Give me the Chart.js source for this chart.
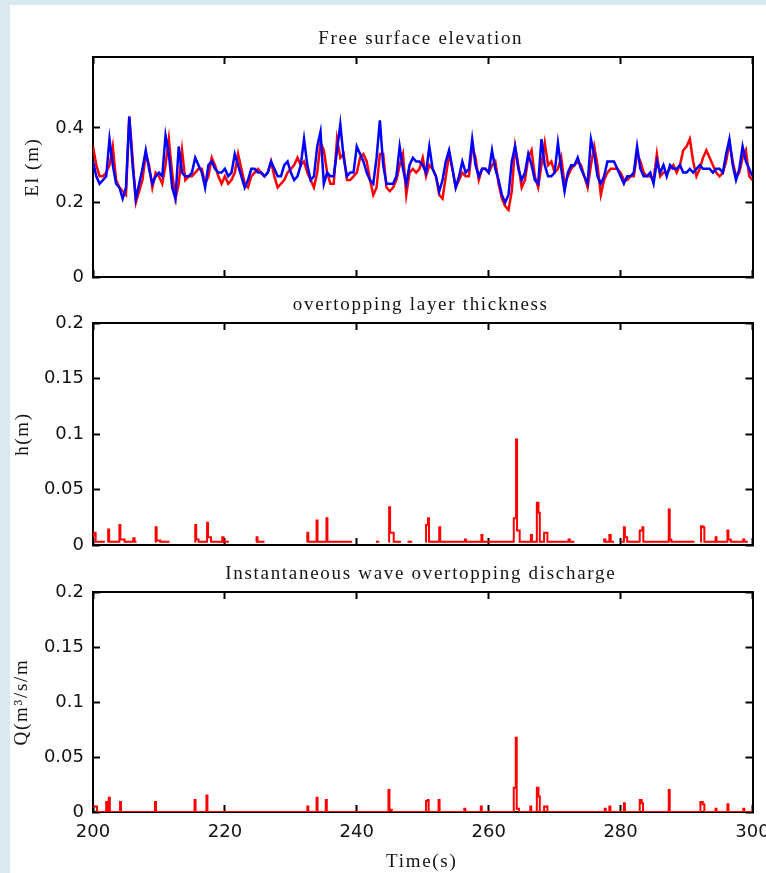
<!DOCTYPE html>
<html>
<head>
<meta charset="utf-8">
<title>Wave overtopping time series</title>
<script src="https://cdn.jsdelivr.net/npm/chart.js@4.4.1/dist/chart.umd.min.js"></script>
<style>
  html, body { margin: 0; padding: 0; }
  body { width: 766px; height: 873px; background: #d9e9f2; position: relative; overflow: hidden; }
  #sheet { position: absolute; left: 10px; top: 5px; right: 0; bottom: 0; background: #fff; }
  canvas { position: absolute; left: 0; }
</style>
</head>
<body>
<div id="sheet"></div>
<canvas id="elev" width="766" height="290" style="top:0px"></canvas>
<canvas id="layer" width="766" height="270" style="top:290px"></canvas>
<canvas id="discharge" width="766" height="313" style="top:560px"></canvas>
<script>
// ---- Free surface elevation (m), sampled every 0.5 s from t = 200 s ----
const elevStart = 200;
const elevStep = 0.5;
const elevBlue = [
  0.31,0.27,0.25,0.26,0.27,0.37,0.30,0.25,0.24,0.21,
  0.24,0.43,0.30,0.21,0.25,0.29,0.34,0.29,0.25,0.27,
  0.28,0.27,0.38,0.33,0.24,0.21,0.35,0.28,0.27,0.27,
  0.28,0.32,0.30,0.28,0.24,0.30,0.31,0.29,0.28,0.28,
  0.29,0.27,0.28,0.33,0.30,0.27,0.24,0.26,0.29,0.29,
  0.28,0.28,0.27,0.28,0.31,0.29,0.27,0.27,0.30,0.31,
  0.28,0.26,0.27,0.30,0.37,0.30,0.26,0.27,0.35,0.39,
  0.25,0.28,0.27,0.27,0.34,0.41,0.32,0.27,0.28,0.28,
  0.35,0.33,0.31,0.28,0.26,0.25,0.32,0.42,0.30,0.25,
  0.25,0.25,0.27,0.35,0.29,0.25,0.30,0.32,0.31,0.31,
  0.30,0.28,0.35,0.29,0.27,0.23,0.26,0.31,0.34,0.29,
  0.24,0.27,0.31,0.28,0.29,0.37,0.30,0.27,0.29,0.29,
  0.28,0.34,0.29,0.26,0.22,0.20,0.22,0.31,0.35,0.29,
  0.26,0.28,0.33,0.30,0.26,0.25,0.37,0.30,0.27,0.27,
  0.28,0.36,0.29,0.23,0.28,0.30,0.30,0.32,0.29,0.27,
  0.25,0.37,0.33,0.27,0.25,0.27,0.31,0.31,0.31,0.29,
  0.27,0.25,0.27,0.27,0.28,0.35,0.29,0.27,0.27,0.28,
  0.25,0.31,0.28,0.30,0.27,0.30,0.29,0.29,0.30,0.28,
  0.28,0.29,0.28,0.29,0.30,0.29,0.29,0.29,0.28,0.29,
  0.29,0.28,0.33,0.37,0.30,0.26,0.29,0.35,0.31,0.29,
  0.27
];
const elevRed = [
  0.35,0.30,0.27,0.27,0.28,0.30,0.35,0.26,0.24,0.23,
  0.22,0.43,0.32,0.20,0.23,0.26,0.33,0.30,0.24,0.28,
  0.27,0.25,0.30,0.37,0.28,0.21,0.25,0.34,0.26,0.27,
  0.27,0.28,0.29,0.29,0.25,0.27,0.32,0.30,0.27,0.25,
  0.27,0.25,0.26,0.28,0.33,0.29,0.25,0.24,0.27,0.28,
  0.29,0.28,0.27,0.28,0.31,0.27,0.24,0.25,0.26,0.28,
  0.29,0.30,0.32,0.30,0.31,0.28,0.26,0.24,0.28,0.36,
  0.34,0.28,0.25,0.25,0.37,0.32,0.33,0.26,0.26,0.27,
  0.28,0.32,0.33,0.31,0.26,0.22,0.24,0.33,0.33,0.24,
  0.23,0.24,0.26,0.30,0.33,0.22,0.28,0.29,0.28,0.29,
  0.32,0.27,0.30,0.29,0.27,0.22,0.21,0.27,0.33,0.29,
  0.24,0.26,0.28,0.27,0.27,0.35,0.32,0.26,0.29,0.29,
  0.28,0.30,0.31,0.25,0.21,0.19,0.18,0.23,0.35,0.30,
  0.24,0.26,0.32,0.34,0.27,0.24,0.30,0.36,0.30,0.31,
  0.28,0.29,0.32,0.25,0.27,0.29,0.30,0.31,0.30,0.27,
  0.24,0.30,0.35,0.30,0.22,0.26,0.28,0.29,0.29,0.29,
  0.28,0.26,0.26,0.27,0.27,0.33,0.31,0.28,0.27,0.27,
  0.26,0.33,0.27,0.28,0.28,0.29,0.30,0.28,0.30,0.34,
  0.35,0.37,0.31,0.27,0.29,0.32,0.34,0.32,0.30,0.28,
  0.27,0.28,0.31,0.36,0.31,0.27,0.28,0.32,0.34,0.27,
  0.26
];

// ---- Overtopping layer thickness h (m): value held from each time until the next; null = dry crest ----
const layerTimes = [
  200.0,200.15,200.4,201.8,201.85,202.2,202.3,202.45,204.0,204.15,204.8,206.1,206.3,206.6,206.65,
  209.4,209.5,209.65,210.2,211.6,211.65,215.4,215.5,215.65,216.0,217.3,217.45,217.9,219.6,219.8,
  220.6,220.65,224.7,224.8,224.95,226.0,226.05,232.4,232.5,232.65,233.9,234.05,235.4,235.55,239.3,
  239.35,242.9,243.4,243.45,244.8,244.9,245.05,245.6,246.7,246.75,247.7,248.4,248.45,250.4,250.5,
  250.8,250.95,252.5,252.65,256.4,256.55,258.9,259.05,263.8,264.15,264.3,264.7,266.4,266.55,267.3,
  267.55,267.75,268.4,268.9,272.1,272.3,273.0,273.05,277.4,277.5,277.7,278.3,278.5,279.0,279.05,
  280.1,280.5,280.65,281.0,282.9,283.3,283.45,287.3,287.45,287.7,291.2,291.25,292.1,292.2,292.45,
  292.7,294.4,294.55,296.2,296.35,296.7,298.6,298.75,299.3,299.35
];
const layerValues = [
  0.008,0.011,0.003,0.003,null,0.003,0.014,0.003,0.018,0.005,0.003,0.006,0.003,0.003,null,
  0.003,0.016,0.004,0.003,0.003,null,0.003,0.018,0.005,0.003,0.020,0.007,0.003,0.007,0.003,
  0.003,null,0.003,0.007,0.003,0.003,null,0.003,0.011,0.003,0.022,0.003,0.024,0.003,0.003,
  null,0.003,0.003,null,0.003,0.034,0.011,0.003,0.003,null,0.003,0.003,null,0.003,0.018,
  0.024,0.003,0.016,0.003,0.005,0.003,0.009,0.003,0.024,0.095,0.013,0.003,0.009,0.003,0.038,
  0.029,0.003,0.011,0.003,0.005,0.003,0.003,null,0.003,0.005,0.003,0.009,0.003,0.003,null,
  0.003,0.016,0.007,0.003,0.013,0.016,0.003,0.032,0.005,0.003,0.003,null,0.003,0.017,0.016,
  0.003,0.007,0.003,0.013,0.005,0.003,0.005,0.003,0.003,null
];

// ---- Instantaneous overtopping discharge Q (m3/s/m), held from each time until the next ----
const dischargeTimes = [
  200.0,200.6,202.0,202.15,202.4,202.55,204.1,204.25,209.4,209.55,215.4,215.55,217.2,217.35,
  232.5,232.65,233.9,234.05,235.3,235.45,244.8,244.95,245.3,250.5,250.75,250.9,252.4,252.55,
  256.3,256.45,258.8,258.95,263.8,264.1,264.25,264.6,266.3,266.45,267.3,267.55,267.75,268.4,
  268.9,277.6,277.75,278.3,278.45,280.5,280.65,282.9,283.2,283.4,287.3,287.45,292.1,292.45,
  292.7,294.4,294.55,296.2,296.35,298.6,298.75,300.0
];
const dischargeValues = [
  0.005,0,0.009,0,0.013,0,0.009,0,0.009,0,0.011,0,0.015,0,
  0.005,0,0.013,0,0.011,0,0.020,0.002,0,0.010,0.011,0,0.011,0,
  0.003,0,0.005,0,0.022,0.0675,0.003,0,0.005,0,0.022,0.014,0,0.005,
  0,0.003,0,0.005,0,0.008,0,0.011,0.008,0,0.020,0,0.009,0.007,
  0,0.003,0,0.007,0,0.003,0,0
];

// Axis tick labels
const timeTicks = [200, 220, 240, 260, 280, 300];

const pairs = (xs, ys) => xs.map((x, i) => ({ x, y: ys[i] }));
const sampled = (t0, dt, ys) => ys.map((y, i) => ({ x: t0 + dt * i, y }));

// Serif panel headings and axis names, letter-spaced
const panelText = {
  id: 'panelText',
  afterDraw(chart, args, o) {
    const { ctx, chartArea: a } = chart;
    ctx.save();
    ctx.fillStyle = '#141414';
    ctx.font = '19px "Liberation Serif", "Times New Roman", serif';
    ctx.letterSpacing = '1.7px';
    ctx.textAlign = 'center';
    ctx.textBaseline = 'alphabetic';
    ctx.fillText(o.title, (a.left + a.right) / 2 - 2, a.top - 13);
    if (o.xTitle) {
      ctx.textBaseline = 'middle';
      ctx.fillText(o.xTitle, (a.left + a.right) / 2 - 1, o.xTitleY);
    }
    ctx.translate(o.yTitleX, (a.top + a.bottom) / 2);
    ctx.rotate(-Math.PI / 2);
    ctx.textBaseline = 'middle';
    ctx.fillText(o.yTitle, 0, 0);
    ctx.restore();
  }
};

const tickFont = { family: 'DejaVu Sans', size: 18 };
const fmt = v => String(Math.round(v * 1000) / 1000);

function makeGrid() {
  return { drawOnChartArea: false, drawTicks: true, tickLength: -7, tickWidth: 2, tickColor: '#000' };
}
function makeBorder() {
  return { display: true, color: '#000', width: 2 };
}

function makeScales(p) {
  return {
    x: {
      type: 'linear', position: 'bottom', min: 200, max: 300,
      grid: makeGrid(), border: makeBorder(),
      afterBuildTicks: s => { s.ticks = timeTicks.map(v => ({ value: v })); },
      ticks: { display: p.xLabels, font: tickFont, color: '#111', padding: 17, maxRotation: 0, autoSkip: false },
      afterFit: s => { s.height = p.bottomSpace; s.paddingLeft = 0; s.paddingRight = 0; }
    },
    xTop: {
      type: 'linear', position: 'top', min: 200, max: 300,
      grid: makeGrid(), border: makeBorder(),
      afterBuildTicks: s => { s.ticks = timeTicks.map(v => ({ value: v })); },
      ticks: { display: false },
      afterFit: s => { s.height = p.topSpace; s.paddingLeft = 0; s.paddingRight = 0; }
    },
    y: {
      type: 'linear', position: 'left', min: 0, max: p.yMax,
      grid: makeGrid(), border: makeBorder(),
      ticks: { stepSize: p.yStep, includeBounds: false, font: tickFont, color: '#111', padding: 16, callback: fmt },
      afterFit: s => { s.width = 93; s.paddingTop = 0; s.paddingBottom = 0; }
    },
    yRight: {
      type: 'linear', position: 'right', min: 0, max: p.yMax,
      grid: makeGrid(), border: makeBorder(),
      ticks: { stepSize: p.yStep, includeBounds: false, display: false },
      afterFit: s => { s.width = 13.5; s.paddingTop = 0; s.paddingBottom = 0; }
    }
  };
}

function makeChart(id, datasets, p, text) {
  return new Chart(document.getElementById(id), {
    type: 'line',
    data: { datasets },
    options: {
      responsive: false,
      animation: false,
      events: [],
      layout: { padding: 0, autoPadding: false },
      elements: { point: { radius: 0 }, line: { tension: 0 } },
      plugins: { legend: { display: false }, tooltip: { enabled: false }, title: { display: false }, panelText: text },
      scales: makeScales(p)
    },
    plugins: [panelText]
  });
}

makeChart('elev', [
  { label: 'blue', data: sampled(elevStart, elevStep, elevBlue), borderColor: '#0000ff', borderWidth: 2.5 },
  { label: 'red', data: sampled(elevStart, elevStep, elevRed), borderColor: '#ff0000', borderWidth: 2.5 }
], { yMax: 0.59, yStep: 0.2, topSpace: 57, bottomSpace: 13, xLabels: false },
   { title: 'Free surface elevation', yTitle: 'El (m)', yTitleX: 33 });

makeChart('layer', [
  { label: 'h', data: pairs(layerTimes, layerValues), borderColor: '#ff0000', borderWidth: 2, stepped: true, spanGaps: false }
], { yMax: 0.2, yStep: 0.05, topSpace: 33, bottomSpace: 15, xLabels: false },
   { title: 'overtopping layer thickness', yTitle: 'h(m)', yTitleX: 23 });

makeChart('discharge', [
  { label: 'Q', data: pairs(dischargeTimes, dischargeValues), borderColor: '#ff0000', borderWidth: 2, stepped: true }
], { yMax: 0.2, yStep: 0.05, topSpace: 32, bottomSpace: 61, xLabels: true },
   { title: 'Instantaneous wave overtopping discharge', yTitle: 'Q(m³/s/m', yTitleX: 22, xTitle: 'Time(s)', xTitleY: 302 });
</script>
</body>
</html>
